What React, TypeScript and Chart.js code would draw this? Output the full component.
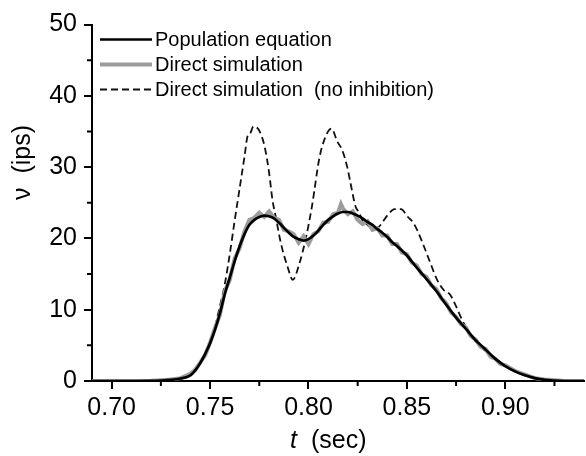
import React, { useEffect, useRef } from "react";
import { Chart, registerables } from "chart.js";

Chart.register(...registerables);

// ---- data ----
const popT = [0.69, 0.70, 0.71, 0.72, 0.725, 0.73, 0.735, 0.74, 0.7425, 0.745, 0.7475, 0.75, 0.7525, 0.755, 0.7575, 0.76, 0.7625, 0.765, 0.7675, 0.77, 0.7725, 0.775, 0.7775, 0.78, 0.7825, 0.785, 0.7875, 0.79, 0.7925, 0.795, 0.7975, 0.80, 0.8025, 0.805, 0.8075, 0.81, 0.8125, 0.815, 0.8175, 0.82, 0.8225, 0.825, 0.8275, 0.83, 0.8325, 0.835, 0.8375, 0.84, 0.8425, 0.845, 0.8475, 0.85, 0.855, 0.86, 0.865, 0.87, 0.875, 0.88, 0.885, 0.89, 0.895, 0.90, 0.905, 0.91, 0.915, 0.92, 0.925, 0.93, 0.94];
const popV = [0, 0, 0, 0.02, 0.06, 0.15, 0.35, 0.8, 1.5, 2.5, 3.8, 5.3, 7.2, 9.5, 12.2, 14.5, 16.8, 18.9, 20.6, 21.9, 22.6, 23.0, 23.2, 23.1, 22.8, 22.2, 21.5, 20.8, 20.2, 19.9, 19.7, 19.9, 20.4, 21.1, 21.9, 22.6, 23.1, 23.5, 23.7, 23.7, 23.5, 23.2, 22.8, 22.3, 21.9, 21.3, 20.8, 20.2, 19.5, 18.9, 18.3, 17.6, 15.9, 14.3, 12.6, 10.7, 8.9, 7.3, 5.7, 4.4, 3.1, 2.1, 1.35, 0.8, 0.4, 0.15, 0.05, 0, 0];

const simT = [0.69, 0.70, 0.71, 0.72, 0.725, 0.73, 0.735, 0.74, 0.7425, 0.745, 0.7475, 0.75, 0.7525, 0.755, 0.7575, 0.76, 0.7625, 0.765, 0.7675, 0.77, 0.7725, 0.775, 0.7775, 0.78, 0.7825, 0.785, 0.7875, 0.79, 0.7925, 0.795, 0.7975, 0.80, 0.8025, 0.805, 0.8075, 0.81, 0.8125, 0.815, 0.8165, 0.8175, 0.82, 0.8225, 0.825, 0.8275, 0.83, 0.8325, 0.835, 0.8375, 0.84, 0.8425, 0.845, 0.8475, 0.85, 0.8525, 0.855, 0.8575, 0.86, 0.8625, 0.865, 0.8675, 0.87, 0.8725, 0.875, 0.8775, 0.88, 0.8825, 0.885, 0.8875, 0.89, 0.8925, 0.895, 0.8975, 0.90, 0.905, 0.91, 0.915, 0.92, 0.925, 0.93, 0.94];
const simV = [0, 0, 0, 0.03, 0.1, 0.2, 0.4, 1.0, 1.6, 2.6, 3.6, 5.4, 7.4, 9.3, 12.6, 14.2, 17.2, 18.6, 21.0, 22.6, 22.9, 23.6, 23.0, 23.8, 22.9, 22.6, 21.2, 21.0, 20.6, 19.4, 20.3, 19.2, 20.6, 21.0, 22.2, 22.3, 23.4, 23.6, 24.8, 24.2, 23.4, 23.8, 22.6, 22.0, 22.4, 21.2, 21.4, 20.4, 20.4, 19.2, 19.2, 18.0, 17.8, 16.6, 16.2, 15.0, 14.6, 13.4, 12.9, 11.6, 10.9, 9.6, 9.0, 8.0, 7.5, 6.3, 5.8, 4.8, 4.5, 3.4, 3.1, 2.4, 2.2, 1.4, 0.9, 0.4, 0.2, 0.1, 0, 0];

const dashT = [0.69, 0.70, 0.71, 0.72, 0.725, 0.73, 0.735, 0.74, 0.745, 0.75, 0.7525, 0.755, 0.7575, 0.76, 0.7625, 0.765, 0.7675, 0.769, 0.7705, 0.772, 0.7735, 0.7752, 0.7777, 0.78, 0.7817, 0.7834, 0.786, 0.7894, 0.792, 0.7954, 0.7988, 0.8017, 0.8057, 0.8094, 0.8117, 0.8146, 0.8171, 0.8197, 0.8214, 0.824, 0.8256, 0.8273, 0.83, 0.8326, 0.8356, 0.8403, 0.8437, 0.847, 0.8505, 0.853, 0.8555, 0.8585, 0.862, 0.865, 0.8686, 0.872, 0.8746, 0.878, 0.8823, 0.8875, 0.89, 0.895, 0.90, 0.905, 0.91, 0.915, 0.92, 0.925, 0.93, 0.94];
const dashV = [0, 0, 0, 0.02, 0.06, 0.15, 0.35, 0.8, 2.5, 5.4, 7.6, 10.5, 13.6, 17.8, 22.5, 27.0, 31.5, 34.3, 34.8, 35.7, 35.6, 35.0, 32.9, 29.2, 25.4, 23.0, 19.3, 16.0, 14.2, 16.5, 20.2, 24.4, 31.5, 34.7, 35.4, 33.6, 32.4, 30.0, 27.7, 24.4, 23.7, 22.6, 21.9, 21.4, 21.6, 23.3, 24.1, 24.1, 23.0, 22.3, 21.0, 19.0, 16.5, 14.4, 12.8, 12.1, 10.7, 8.6, 6.5, 4.8, 4.2, 3.1, 2.1, 1.35, 0.8, 0.4, 0.15, 0.05, 0, 0];

const seriesNames = ["Population equation", "Direct simulation", "Direct simulation  (no inhibition)"];

const xMajorTicks = [0.70, 0.75, 0.80, 0.85, 0.90];
const xMinorTicks = [0.725, 0.775, 0.825, 0.875, 0.925];
const yMajorTicks = [0, 10, 20, 30, 40, 50];
const yMinorTicks = [5, 15, 25, 35, 45];

const xTitleVar = "t";
const xTitleUnit = "(sec)";
const yTitle = "ν  (ips)";

const FONT = "'Liberation Sans', Arial, Helvetica, sans-serif";

const toPoints = (ts: number[], vs: number[]) => ts.map((t, i) => ({ x: t, y: vs[i] }));

const extrasPlugin = {
  id: "extras",
  afterDraw(chart: any) {
    const ctx = chart.ctx as CanvasRenderingContext2D;
    const area = chart.chartArea;
    const xs = chart.scales.x;
    const ys = chart.scales.y;
    ctx.save();
    // minor ticks
    ctx.strokeStyle = "#000";
    ctx.lineWidth = 2;
    ctx.beginPath();
    xMinorTicks.forEach((v) => {
      const px = xs.getPixelForValue(v);
      ctx.moveTo(px, area.bottom);
      ctx.lineTo(px, area.bottom + 5);
    });
    yMinorTicks.forEach((v) => {
      const py = ys.getPixelForValue(v);
      ctx.moveTo(area.left - 5, py);
      ctx.lineTo(area.left, py);
    });
    ctx.stroke();

    // axis titles
    ctx.fillStyle = "#000";
    ctx.textBaseline = "alphabetic";
    ctx.textAlign = "left";
    ctx.font = `italic 25px ${FONT}`;
    ctx.fillText(xTitleVar, area.left + 198, 448);
    ctx.font = `25px ${FONT}`;
    ctx.fillText(xTitleUnit, area.left + 219, 448);

    ctx.save();
    ctx.translate(30, 200);
    ctx.rotate(-Math.PI / 2);
    ctx.font = `25px ${FONT}`;
    ctx.fillText(yTitle, 0, 0);
    ctx.restore();

    // legend
    const datasets = chart.data.datasets;
    ctx.font = `20px ${FONT}`;
    ctx.textBaseline = "middle";
    datasets.forEach((ds: any, i: number) => {
      const y = area.top + 15 + i * 25;
      ctx.save();
      ctx.strokeStyle = ds.borderColor;
      ctx.lineWidth = ds.borderWidth;
      ctx.setLineDash(ds.borderDash || []);
      ctx.beginPath();
      ctx.moveTo(area.left + 8, y);
      ctx.lineTo(area.left + 60, y);
      ctx.stroke();
      ctx.restore();
      ctx.fillStyle = "#000";
      ctx.fillText(ds.label, area.left + 63, y + 0.5);
    });
    ctx.restore();
  },
};

export default function App() {
  const ref = useRef<HTMLCanvasElement>(null);
  useEffect(() => {
    if (!ref.current) return;
    Chart.defaults.font.family = FONT;
    const chart = new Chart(ref.current, {
      type: "line",
      data: {
        datasets: [
          {
            label: seriesNames[0],
            data: toPoints(popT, popV),
            borderColor: "#000000",
            borderWidth: 2.7,
            pointRadius: 0,
            cubicInterpolationMode: "monotone",
            fill: false,
          },
          {
            label: seriesNames[1],
            data: toPoints(simT, simV),
            borderColor: "#9c9c9c",
            borderWidth: 4,
            pointRadius: 0,
            tension: 0,
            fill: false,
          },
          {
            label: seriesNames[2],
            data: toPoints(dashT, dashV),
            borderColor: "#111111",
            borderWidth: 1.8,
            borderDash: [7, 4],
            pointRadius: 0,
            cubicInterpolationMode: "monotone",
            fill: false,
          },
        ],
      },
      options: {
        animation: false,
        responsive: false,
        layout: { padding: { top: 24.5, right: 2, left: 0, bottom: 0 } },
        plugins: { legend: { display: false }, tooltip: { enabled: false } },
        scales: {
          x: {
            type: "linear",
            min: 0.69,
            max: 0.94,
            afterBuildTicks: (scale: any) => {
              scale.ticks = xMajorTicks.map((v) => ({ value: v }));
            },
            afterFit: (scale: any) => {
              scale.height = 75;
            },
            ticks: {
              autoSkip: false,
              maxRotation: 0,
              color: "#000",
              padding: 4,
              font: { size: 25, family: FONT },
              callback: (v: any) => Number(v).toFixed(2),
            },
            grid: { drawOnChartArea: false, tickLength: 8, color: "#000", lineWidth: 2 },
            border: { color: "#000", width: 2 },
          },
          y: {
            type: "linear",
            min: 0,
            max: 50,
            afterBuildTicks: (scale: any) => {
              scale.ticks = yMajorTicks.map((v) => ({ value: v }));
            },
            afterFit: (scale: any) => {
              scale.width = 92;
            },
            ticks: {
              color: "#000",
              padding: 7,
              font: { size: 25, family: FONT },
              callback: (v: any) => String(v),
            },
            grid: { drawOnChartArea: false, tickLength: 8, color: "#000", lineWidth: 2 },
            border: { color: "#000", width: 2 },
          },
        },
      },
      plugins: [extrasPlugin],
    } as any);
    return () => chart.destroy();
  }, []);
  return (
    <div style={{ position: "absolute", left: 0, top: 0, width: 586, height: 456, background: "#fff" }}>
      <canvas ref={ref} width={586} height={456} style={{ display: "block" }} />
    </div>
  );
}
